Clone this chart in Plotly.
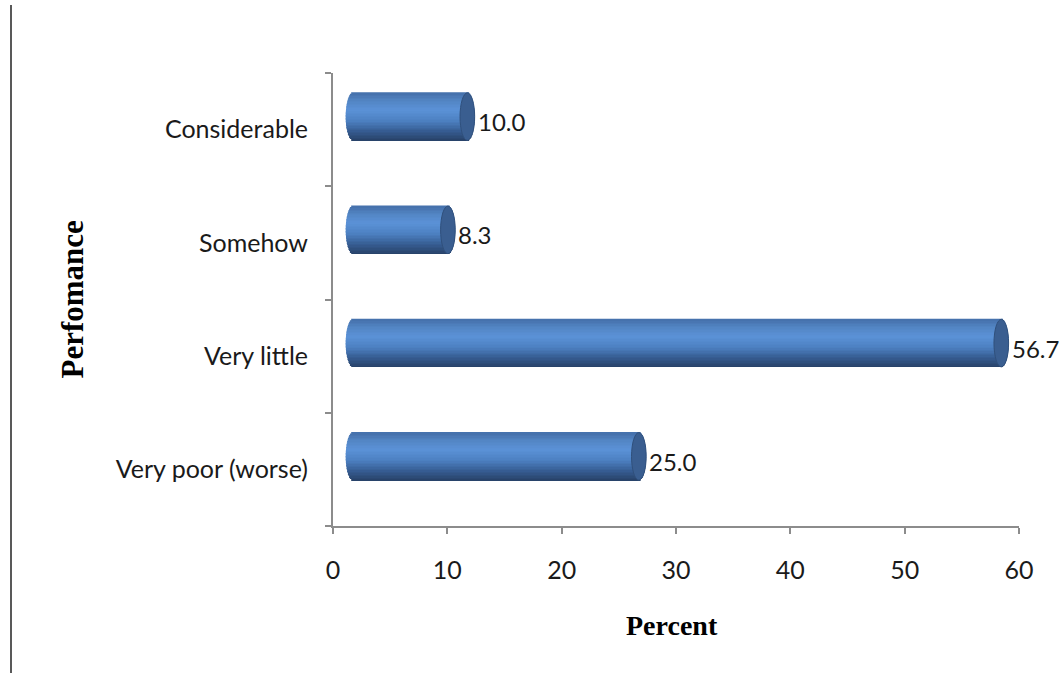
import numpy as np
import plotly.graph_objects as go

# Survey results: share of respondents per performance rating
categories = ["Very poor (worse)", "Very little", "Somehow", "Considerable"]
percent = [25.0, 56.7, 8.3, 10.0]

x_ticks = [0, 10, 20, 30, 40, 50, 60]
x_title = "Percent"
y_title = "Perfomance"

# Figure geometry (pixels)
W, H = 1062, 673
ML, MR, MT, MB = 333, 43, 73, 147
PW, PH = W - ML - MR, H - MT - MB

# Cylinder look: depth shift, end-cap radius, bar centre offset / half height
DEPTH = 1.75          # x units the bars are pushed right by the 3-D depth
CAP = 0.64            # horizontal semi-axis of the end ellipses (x units)
CENTER = 0.115        # bar centre above the category centre (category units)
HALF = 0.21           # half bar thickness (category units)
N_STRIPS = 32

# Vertical shading of the cylinder body (t=-1 bottom .. t=+1 top)
stops = [
    (-1.00, (0x27, 0x41, 0x67)),
    (-0.60, (0x36, 0x5c, 0x91)),
    (-0.15, (0x4c, 0x80, 0xc1)),
    (0.30, (0x5b, 0x92, 0xd7)),
    (0.70, (0x52, 0x84, 0xc3)),
    (1.00, (0x45, 0x70, 0xab)),
]


def shade(t):
    ts = [s[0] for s in stops]
    rgb = [int(round(np.interp(t, ts, [s[1][k] for s in stops]))) for k in range(3)]
    return "rgb({},{},{})".format(*rgb)


fig = go.Figure()

# Invisible trace that keeps the visible percent axis attached to the plot
fig.add_trace(go.Scatter(
    x=x_ticks, y=[categories[0]] * len(x_ticks), mode="markers",
    marker=dict(opacity=0), xaxis="x", yaxis="y",
    hoverinfo="skip", showlegend=False,
))

dh = 2 * HALF / N_STRIPS
for k in range(N_STRIPS):
    lo = CENTER - HALF + k * dh
    t = (lo + dh / 2 - CENTER) / HALF
    bulge = CAP * np.sqrt(max(0.0, 1 - t * t))
    fig.add_trace(go.Bar(
        y=categories,
        x=[v + 2 * bulge for v in percent],
        base=[-bulge] * len(percent),
        orientation="h",
        offset=lo,
        width=dh + 0.004,
        marker=dict(color=shade(t), line=dict(width=0)),
        xaxis="x2",
        yaxis="y",
        hoverinfo="skip",
        showlegend=False,
    ))

shapes = []
annotations = []
for i, v in enumerate(percent):
    # dark end face of the cylinder
    shapes.append(dict(
        type="circle", xref="x2", yref="y",
        x0=v - CAP, x1=v + CAP,
        y0=i + CENTER - HALF, y1=i + CENTER + HALF,
        fillcolor="#3a5e90", line=dict(color="#30507c", width=1),
        layer="above",
    ))
    annotations.append(dict(
        x=v + CAP, y=i + 0.07, xref="x2", yref="y",
        text=f"{v:.1f}", showarrow=False, xanchor="left", yanchor="middle",
        xshift=1, font=dict(family="Lato", size=24, color="#1a1a1a"),
    ))

# Axis titles
annotations.append(dict(
    x=(672 - ML) / PW, y=(MT + PH - 625) / PH, xref="paper", yref="paper",
    text=f"<b>{x_title}</b>", showarrow=False, xanchor="center", yanchor="middle",
    font=dict(family="Liberation Serif", size=28, color="#000000"),
))
annotations.append(dict(
    x=(72 - ML) / PW, y=0.5, xref="paper", yref="paper",
    text=f"<b>{y_title}</b>", showarrow=False, textangle=-90,
    xanchor="center", yanchor="middle",
    font=dict(family="Liberation Serif", size=31, color="#000000"),
))

# Frame line at the far left
shapes.append(dict(
    type="line", xref="paper", yref="paper",
    x0=(11 - ML) / PW, x1=(11 - ML) / PW,
    y0=-MB / PH, y1=(MT + PH - 5) / PH,
    line=dict(color="#222222", width=1.5),
))

axis_grey = "#8c8c8c"
tick_font = dict(family="Lato", size=25, color="#1a1a1a")

fig.update_layout(
    width=W, height=H,
    margin=dict(l=ML, r=MR, t=MT, b=MB, pad=0),
    paper_bgcolor="white", plot_bgcolor="white",
    barmode="overlay",
    showlegend=False,
    shapes=shapes,
    annotations=annotations,
    xaxis=dict(
        range=[x_ticks[0], x_ticks[-1]], tickvals=x_ticks,
        ticks="outside", ticklen=6, tickwidth=2, tickcolor=axis_grey,
        showline=True, linecolor=axis_grey, linewidth=2,
        showgrid=False, zeroline=False, tickfont=tick_font,
        ticklabelstandoff=15, anchor="y", fixedrange=True,
    ),
    xaxis2=dict(
        overlaying="x", anchor="y", visible=False,
        range=[x_ticks[0] - DEPTH, x_ticks[-1] - DEPTH], fixedrange=True,
    ),
    yaxis=dict(
        type="category", categoryorder="array", categoryarray=categories,
        range=[-0.5, len(categories) - 0.5],
        tickson="boundaries", ticks="outside", ticklen=6, tickwidth=2,
        tickcolor=axis_grey, showline=True, linecolor=axis_grey, linewidth=2,
        showgrid=False, zeroline=False, tickfont=tick_font,
        ticklabelstandoff=18, fixedrange=True,
    ),
)

fig.write_html("out.html")
